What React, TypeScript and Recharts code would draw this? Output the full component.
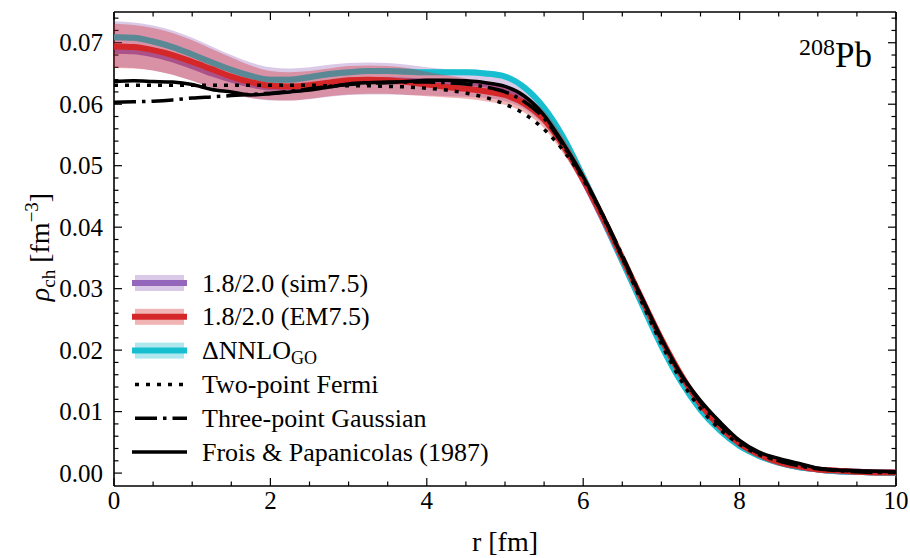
import React from 'react';
import { ComposedChart, Line, Area, XAxis, YAxis } from 'recharts';

// radius grid [fm]
const rGrid = [0, 0.25, 0.5, 0.75, 1, 1.25, 1.5, 1.75, 2, 2.25, 2.5, 2.75, 3, 3.25, 3.5, 3.75, 4, 4.25, 4.5, 4.75, 5, 5.25, 5.5, 5.75, 6, 6.25, 6.5, 6.75, 7, 7.25, 7.5, 7.75, 8, 8.25, 8.5, 8.75, 9, 9.25, 9.5, 9.75, 10];

// 1.8/2.0 (sim7.5)
const simMid = [0.0687, 0.0686, 0.0681, 0.0673, 0.0662, 0.0650, 0.0640, 0.0632, 0.0627, 0.0627, 0.0629, 0.0633, 0.0637, 0.0639, 0.0639, 0.0638, 0.0637, 0.0636, 0.0635, 0.0632, 0.0625, 0.0609, 0.0580, 0.0534, 0.0477, 0.0413, 0.0345, 0.0278, 0.0213, 0.0155, 0.0108, 0.0072, 0.0046, 0.0028, 0.0017, 0.0010, 0.0006, 0.0003, 0.0002, 0.0001, 0.0001];
const simHi = [0.0735, 0.0733, 0.0728, 0.0720, 0.0708, 0.0694, 0.0680, 0.0668, 0.0660, 0.0658, 0.0660, 0.0664, 0.0667, 0.0668, 0.0667, 0.0664, 0.0660, 0.0657, 0.0653, 0.0648, 0.0640, 0.0624, 0.0594, 0.0546, 0.0489, 0.0424, 0.0354, 0.0285, 0.0219, 0.0160, 0.0112, 0.0075, 0.0048, 0.0030, 0.0018, 0.0011, 0.0006, 0.0004, 0.0002, 0.0001, 0.0001];
const simLo = [0.0660, 0.0659, 0.0655, 0.0648, 0.0638, 0.0627, 0.0617, 0.0610, 0.0606, 0.0606, 0.0608, 0.0612, 0.0615, 0.0616, 0.0616, 0.0615, 0.0614, 0.0613, 0.0612, 0.0610, 0.0605, 0.0592, 0.0566, 0.0522, 0.0466, 0.0403, 0.0337, 0.0271, 0.0207, 0.0150, 0.0104, 0.0069, 0.0044, 0.0026, 0.0016, 0.0009, 0.0005, 0.0003, 0.0001, 0.0001, 0.0000];

// 1.8/2.0 (EM7.5)
const emMid = [0.0694, 0.0693, 0.0688, 0.0680, 0.0669, 0.0657, 0.0645, 0.0636, 0.0630, 0.0629, 0.0631, 0.0635, 0.0639, 0.0640, 0.0639, 0.0636, 0.0632, 0.0628, 0.0625, 0.0621, 0.0615, 0.0601, 0.0575, 0.0532, 0.0478, 0.0416, 0.0350, 0.0283, 0.0218, 0.0160, 0.0112, 0.0075, 0.0048, 0.0030, 0.0018, 0.0011, 0.0006, 0.0004, 0.0002, 0.0001, 0.0001];
const emHi = [0.0731, 0.0729, 0.0724, 0.0716, 0.0704, 0.0690, 0.0676, 0.0663, 0.0654, 0.0652, 0.0654, 0.0658, 0.0662, 0.0663, 0.0662, 0.0659, 0.0653, 0.0647, 0.0642, 0.0637, 0.0631, 0.0616, 0.0589, 0.0545, 0.0489, 0.0425, 0.0358, 0.0289, 0.0223, 0.0164, 0.0115, 0.0078, 0.0050, 0.0032, 0.0019, 0.0012, 0.0007, 0.0004, 0.0002, 0.0001, 0.0001];
const emLo = [0.0659, 0.0658, 0.0655, 0.0648, 0.0638, 0.0627, 0.0617, 0.0610, 0.0607, 0.0606, 0.0609, 0.0613, 0.0616, 0.0617, 0.0617, 0.0615, 0.0613, 0.0611, 0.0609, 0.0605, 0.0599, 0.0586, 0.0561, 0.0519, 0.0467, 0.0407, 0.0342, 0.0277, 0.0213, 0.0156, 0.0109, 0.0072, 0.0046, 0.0028, 0.0017, 0.0010, 0.0005, 0.0003, 0.0002, 0.0001, 0.0000];

// ΔNNLO_GO
const goMid = [0.0709, 0.0708, 0.0702, 0.0693, 0.0681, 0.0668, 0.0656, 0.0646, 0.0640, 0.0640, 0.0644, 0.0649, 0.0652, 0.0654, 0.0654, 0.0653, 0.0652, 0.0652, 0.0652, 0.0650, 0.0645, 0.0627, 0.0594, 0.0545, 0.0482, 0.0415, 0.0345, 0.0275, 0.0207, 0.0149, 0.0103, 0.0069, 0.0044, 0.0028, 0.0017, 0.0010, 0.0006, 0.0003, 0.0002, 0.0001, 0.0000];
const goHi = [0.0714, 0.0713, 0.0707, 0.0698, 0.0686, 0.0673, 0.0661, 0.0651, 0.0645, 0.0645, 0.0649, 0.0654, 0.0657, 0.0659, 0.0659, 0.0658, 0.0657, 0.0657, 0.0657, 0.0655, 0.0650, 0.0632, 0.0599, 0.0550, 0.0486, 0.0419, 0.0349, 0.0279, 0.0210, 0.0152, 0.0105, 0.0071, 0.0045, 0.0029, 0.0018, 0.0011, 0.0006, 0.0003, 0.0002, 0.0001, 0.0000];
const goLo = [0.0704, 0.0703, 0.0697, 0.0688, 0.0676, 0.0663, 0.0651, 0.0641, 0.0635, 0.0635, 0.0639, 0.0644, 0.0647, 0.0649, 0.0649, 0.0648, 0.0647, 0.0647, 0.0647, 0.0645, 0.0640, 0.0622, 0.0589, 0.0540, 0.0478, 0.0411, 0.0341, 0.0271, 0.0204, 0.0146, 0.0101, 0.0067, 0.0043, 0.0027, 0.0016, 0.0009, 0.0005, 0.0003, 0.0001, 0.0000, 0.0000];

// Two-point Fermi
const fermi = [0.0631, 0.0631, 0.0631, 0.0631, 0.0631, 0.0631, 0.0631, 0.0631, 0.0631, 0.0631, 0.0631, 0.0630, 0.0630, 0.0630, 0.0629, 0.0628, 0.0626, 0.0623, 0.0618, 0.0611, 0.0600, 0.0584, 0.0559, 0.0524, 0.0478, 0.0418, 0.0350, 0.0278, 0.0210, 0.0151, 0.0105, 0.0071, 0.0047, 0.0030, 0.0020, 0.0013, 0.0008, 0.0005, 0.0003, 0.0002, 0.0001];

// Three-point Gaussian
const gauss3 = [0.0603, 0.0604, 0.0605, 0.0607, 0.0610, 0.0612, 0.0614, 0.0616, 0.0618, 0.0621, 0.0625, 0.0629, 0.0632, 0.0634, 0.0635, 0.0636, 0.0636, 0.0635, 0.0633, 0.0628, 0.0620, 0.0604, 0.0577, 0.0532, 0.0480, 0.0420, 0.0354, 0.0285, 0.0218, 0.0160, 0.0115, 0.0078, 0.0051, 0.0032, 0.0020, 0.0012, 0.0007, 0.0004, 0.0002, 0.0001, 0.0001];

// Frois & Papanicolas (1987)
const frois = [0.0637, 0.0638, 0.0637, 0.0636, 0.0632, 0.0624, 0.0620, 0.0615, 0.0617, 0.0620, 0.0623, 0.0628, 0.0633, 0.0635, 0.0636, 0.0637, 0.0639, 0.0639, 0.0638, 0.0635, 0.0629, 0.0613, 0.0582, 0.0535, 0.0482, 0.0420, 0.0351, 0.0285, 0.0219, 0.0161, 0.0118, 0.0083, 0.0053, 0.0034, 0.0024, 0.0016, 0.0008, 0.0005, 0.0004, 0.0003, 0.0002];

const xTicks = [0, 0.5, 1, 1.5, 2, 2.5, 3, 3.5, 4, 4.5, 5, 5.5, 6, 6.5, 7, 7.5, 8, 8.5, 9, 9.5, 10];
const xMajorLabels = [0, 2, 4, 6, 8, 10];
const yTicks = [0, 0.002, 0.004, 0.006, 0.008, 0.01, 0.012, 0.014, 0.016, 0.018, 0.02, 0.022, 0.024, 0.026, 0.028, 0.03, 0.032, 0.034, 0.036, 0.038, 0.04, 0.042, 0.044, 0.046, 0.048, 0.05, 0.052, 0.054, 0.056, 0.058, 0.06, 0.062, 0.064, 0.066, 0.068, 0.07, 0.072, 0.074];
const yMajorLabels = [0, 0.01, 0.02, 0.03, 0.04, 0.05, 0.06, 0.07];

const legendLabels = ['1.8/2.0 (sim7.5)', '1.8/2.0 (EM7.5)', 'ΔNNLO', 'Two-point Fermi', 'Three-point Gaussian', 'Frois & Papanicolas (1987)'];

const data = rGrid.map((r, i) => ({
  r,
  sim: simMid[i],
  simBand: [simLo[i], simHi[i]],
  em: emMid[i],
  emBand: [emLo[i], emHi[i]],
  go: goMid[i],
  goBand: [goLo[i], goHi[i]],
  fermi: fermi[i],
  gauss3: gauss3[i],
  frois: frois[i],
}));

const FONT = "'Liberation Serif', 'DejaVu Serif', serif";
const PURPLE = '#9467bd';
const RED = '#d62728';
const CYAN = '#17becf';
const BAND_OP = 0.35;

const W = 910;
const H = 558;
const PL = 114, PR = 896, PT = 12, PB = 486;
const X_DOMAIN: [number, number] = [0, 10];
const Y_DOMAIN: [number, number] = [-0.0021, 0.075];

const isXMajor = (v: number) => xMajorLabels.some((m) => Math.abs(m - v) < 1e-9);
const isYMajor = (v: number) => yMajorLabels.some((m) => Math.abs(m - v) < 1e-9);

const MAJ = 8;
const MIN = 4.5;
const TW = 1.2;

const XTickBottom = (props: any) => {
  const { x, y, payload } = props;
  const v = payload.value;
  const maj = isXMajor(v);
  return (
    <g>
      <line x1={x} x2={x} y1={y} y2={y - (maj ? MAJ : MIN)} stroke="#000" strokeWidth={TW} />
      {maj && (
        <text x={x} y={y + 23} textAnchor="middle" fontSize={25} fontFamily={FONT} fill="#000">
          {String(v)}
        </text>
      )}
    </g>
  );
};

const XTickTop = (props: any) => {
  const { x, y, payload } = props;
  const maj = isXMajor(payload.value);
  return <line x1={x} x2={x} y1={y} y2={y + (maj ? MAJ : MIN)} stroke="#000" strokeWidth={TW} />;
};

const YTickLeft = (props: any) => {
  const { x, y, payload } = props;
  const v = payload.value;
  const maj = isYMajor(v);
  return (
    <g>
      <line x1={x} x2={x + (maj ? MAJ : MIN)} y1={y} y2={y} stroke="#000" strokeWidth={TW} />
      {maj && (
        <text x={x - 11} y={y + 8.5} textAnchor="end" fontSize={25} fontFamily={FONT} fill="#000">
          {v.toFixed(2)}
        </text>
      )}
    </g>
  );
};

const YTickRight = (props: any) => {
  const { x, y, payload } = props;
  const maj = isYMajor(payload.value);
  return <line x1={x} x2={x - (maj ? MAJ : MIN)} y1={y} y2={y} stroke="#000" strokeWidth={TW} />;
};

const Overlay = () => {
  const rowY0 = 283;
  const rowStep = 33.8;
  const hx1 = 132, hx2 = 187;
  const tx = 202;
  const rows = legendLabels.map((lab, i) => {
    const cy = rowY0 + i * rowStep;
    let handle: React.ReactNode = null;
    if (i < 3) {
      const c = [PURPLE, RED, CYAN][i];
      handle = (
        <g>
          <rect x={hx1 + 3} y={cy - 8} width={hx2 - hx1 - 6} height={16} fill={c} fillOpacity={BAND_OP} />
          <line x1={hx1} x2={hx2} y1={cy} y2={cy} stroke={c} strokeWidth={6} />
        </g>
      );
    } else if (i === 3) {
      handle = <line x1={hx1 + 3} x2={hx2} y1={cy} y2={cy} stroke="#000" strokeWidth={3.5} strokeDasharray="4 7" />;
    } else if (i === 4) {
      handle = <line x1={hx1 + 3} x2={hx2} y1={cy} y2={cy} stroke="#000" strokeWidth={3.5} strokeDasharray="22 6 3.5 6" />;
    } else {
      handle = <line x1={hx1} x2={hx2} y1={cy} y2={cy} stroke="#000" strokeWidth={3.5} />;
    }
    return (
      <g key={i}>
        {handle}
        <text x={tx} y={cy + 8.5} fontSize={26} fontFamily={FONT} fill="#000">
          {lab}
          {i === 2 && (
            <tspan fontSize={18} dy={5}>
              GO
            </tspan>
          )}
        </text>
      </g>
    );
  });
  return (
    <svg width={W} height={H} style={{ position: 'absolute', left: 0, top: 0, pointerEvents: 'none' }}>
      {rows}
      <text x={872} y={67} textAnchor="end" fontFamily={FONT} fill="#000">
        <tspan fontSize={24} dy={-12}>208</tspan>
        <tspan fontSize={35} dy={12}>Pb</tspan>
      </text>
      <text x={505} y={551} textAnchor="middle" fontSize={28} fontFamily={FONT} fill="#000">
        r [fm]
      </text>
      <text
        transform="translate(49,247) rotate(-90)"
        textAnchor="middle"
        fontSize={28}
        fontFamily={FONT}
        fill="#000"
      >
        <tspan fontStyle="italic">ρ</tspan>
        <tspan fontSize={19} dy={6}>ch</tspan>
        <tspan dy={-6}> [fm</tspan>
        <tspan fontSize={19} dy={-11}>−3</tspan>
        <tspan dy={11}>]</tspan>
      </text>
    </svg>
  );
};

// Bottom layer: axes frame and sim7.5
const BaseChart = () => (
  <ComposedChart
    width={W}
    height={H}
    data={data}
    margin={{ left: PL - 60, right: W - PR - 1, top: PT - 1, bottom: H - PB - 60 }}
  >
    <XAxis xAxisId="b" dataKey="r" type="number" domain={X_DOMAIN} allowDataOverflow ticks={xTicks} interval={0}
      tickSize={0} tickMargin={0} tickLine={false} tick={<XTickBottom />} height={60}
      axisLine={{ stroke: '#000', strokeWidth: 1.6 }} />
    <XAxis xAxisId="t" dataKey="r" type="number" orientation="top" domain={X_DOMAIN} allowDataOverflow ticks={xTicks}
      interval={0} tickSize={0} tickMargin={0} tickLine={false} tick={<XTickTop />} height={1}
      axisLine={{ stroke: '#000', strokeWidth: 1.6 }} />
    <YAxis yAxisId="l" type="number" domain={Y_DOMAIN} allowDataOverflow ticks={yTicks} interval={0}
      tickSize={0} tickMargin={0} tickLine={false} tick={<YTickLeft />} width={60}
      axisLine={{ stroke: '#000', strokeWidth: 1.6 }} />
    <YAxis yAxisId="r" type="number" orientation="right" domain={Y_DOMAIN} allowDataOverflow ticks={yTicks}
      interval={0} tickSize={0} tickMargin={0} tickLine={false} tick={<YTickRight />} width={1}
      axisLine={{ stroke: '#000', strokeWidth: 1.6 }} />

    <Area xAxisId="b" yAxisId="l" type="monotone" dataKey="simBand" stroke="none" fill={PURPLE} fillOpacity={BAND_OP} isAnimationActive={false} dot={false} activeDot={false} />
    <Line xAxisId="b" yAxisId="l" type="monotone" dataKey="sim" stroke={PURPLE} strokeWidth={6} dot={false} activeDot={false} isAnimationActive={false} />
    <Line xAxisId="t" yAxisId="r" type="monotone" dataKey="frois" stroke="none" dot={false} activeDot={false} isAnimationActive={false} />
  </ComposedChart>
);

// Middle layer: ΔNNLO_GO
const MidChart = () => (
  <ComposedChart width={W} height={H} data={data}
    margin={{ left: PL, right: W - PR, top: PT, bottom: H - PB }}>
    <XAxis dataKey="r" type="number" domain={X_DOMAIN} allowDataOverflow hide />
    <YAxis type="number" domain={Y_DOMAIN} allowDataOverflow hide />
    <Area type="monotone" dataKey="goBand" stroke="none" fill={CYAN} fillOpacity={BAND_OP} isAnimationActive={false} dot={false} activeDot={false} />
    <Line type="monotone" dataKey="go" stroke={CYAN} strokeWidth={6} dot={false} activeDot={false} isAnimationActive={false} />
  </ComposedChart>
);

// Top layer: EM7.5 and the empirical densities
const TopChart = () => (
  <ComposedChart width={W} height={H} data={data}
    margin={{ left: PL, right: W - PR, top: PT, bottom: H - PB }}>
    <XAxis dataKey="r" type="number" domain={X_DOMAIN} allowDataOverflow hide />
    <YAxis type="number" domain={Y_DOMAIN} allowDataOverflow hide />
    <Area type="monotone" dataKey="emBand" stroke="none" fill={RED} fillOpacity={BAND_OP} isAnimationActive={false} dot={false} activeDot={false} />
    <Line type="monotone" dataKey="em" stroke={RED} strokeWidth={6} dot={false} activeDot={false} isAnimationActive={false} />
    <Line type="monotone" dataKey="frois" stroke="#000" strokeWidth={3.5} dot={false} activeDot={false} isAnimationActive={false} />
    <Line type="monotone" dataKey="gauss3" stroke="#000" strokeWidth={3.5} strokeDasharray="22 6 3.5 6" dot={false} activeDot={false} isAnimationActive={false} />
    <Line type="monotone" dataKey="fermi" stroke="#000" strokeWidth={3.5} strokeDasharray="4 7" dot={false} activeDot={false} isAnimationActive={false} />
  </ComposedChart>
);

const layer: React.CSSProperties = { position: 'absolute', left: 0, top: 0, width: W, height: H };

export default function App() {
  return (
    <div style={{ position: 'absolute', left: 0, top: 0, width: W, height: H, background: '#fff' }}>
      <div style={layer}><BaseChart /></div>
      <div style={layer}><MidChart /></div>
      <div style={layer}><TopChart /></div>
      <Overlay />
    </div>
  );
}
